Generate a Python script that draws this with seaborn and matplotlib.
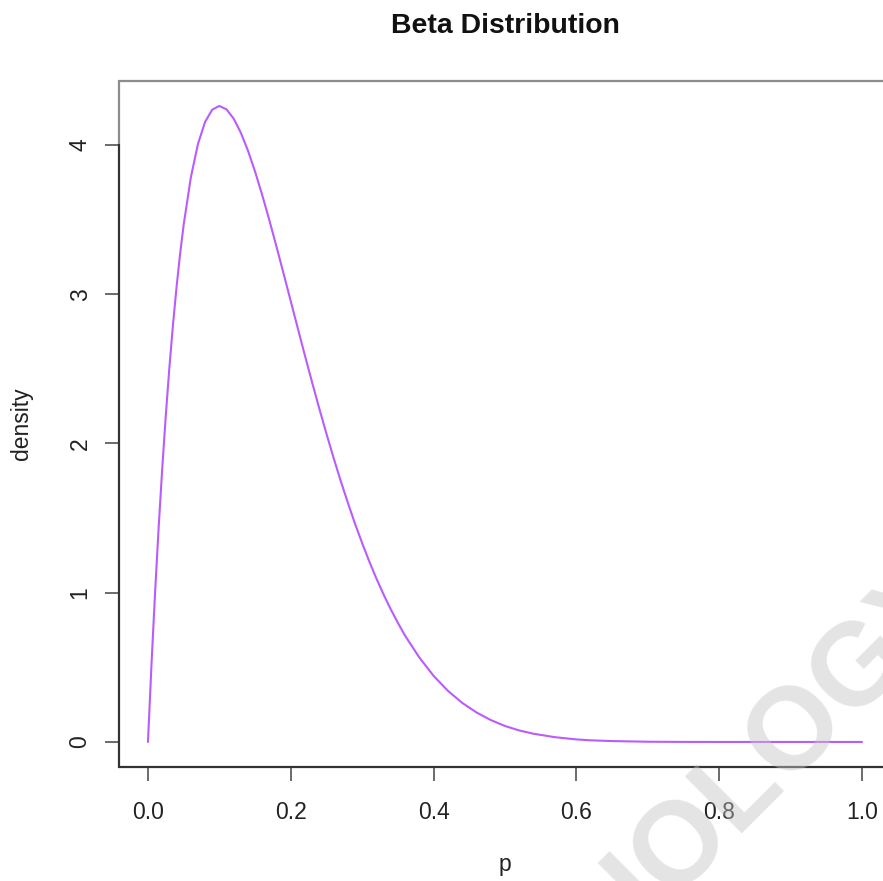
import matplotlib
matplotlib.use("Agg")
import matplotlib.pyplot as plt
import seaborn as sns
import pandas as pd
from matplotlib.patches import Rectangle

# values
p_values = [0.000, 0.005, 0.010, 0.015, 0.020, 0.025, 0.030, 0.035, 0.040, 0.045,
            0.050, 0.060, 0.070, 0.080, 0.090, 0.100, 0.110, 0.120, 0.130, 0.140,
            0.150, 0.160, 0.170, 0.180, 0.190, 0.200, 0.210, 0.220, 0.230, 0.240,
            0.250, 0.260, 0.270, 0.280, 0.290, 0.300, 0.310, 0.320, 0.330, 0.340,
            0.350, 0.360, 0.380, 0.400, 0.420, 0.440, 0.460, 0.480, 0.500, 0.520,
            0.540, 0.570, 0.600, 0.620, 0.650, 0.700, 0.750, 0.800, 0.850, 0.900,
            0.950, 1.000]
density_values = [0.000, 0.526, 1.005, 1.440, 1.834, 2.190, 2.509, 2.794, 3.047, 3.271,
                  3.466, 3.782, 4.007, 4.155, 4.237, 4.262, 4.239, 4.177, 4.083, 3.963,
                  3.822, 3.665, 3.496, 3.319, 3.137, 2.953, 2.769, 2.586, 2.407, 2.233,
                  2.065, 1.903, 1.748, 1.602, 1.462, 1.332, 1.209, 1.094, 0.988, 0.889,
                  0.798, 0.713, 0.566, 0.443, 0.343, 0.262, 0.198, 0.147, 0.107, 0.077,
                  0.055, 0.032, 0.017, 0.011, 0.006, 0.0015, 0.0003, 0.0000, 0.0000, 0.0000,
                  0.0000, 0.0000]
x_ticks = [0.0, 0.2, 0.4, 0.6, 0.8, 1.0]
x_tick_labels = ["0.0", "0.2", "0.4", "0.6", "0.8", "1.0"]
y_ticks = [0, 1, 2, 3, 4]
y_tick_labels = ["0", "1", "2", "3", "4"]

sns.set_theme(style="white")
plt.rcParams['font.family'] = ['Liberation Sans', 'DejaVu Sans']

df = pd.DataFrame({"p": p_values, "density": density_values})

W, H = 883, 881
fig = plt.figure(figsize=(W / 100, H / 100), dpi=100)
left, right, top, bottom = 119.4, 890.6, 80.5, 767.4
ax = fig.add_axes([left / W, 1 - bottom / H, (right - left) / W, (bottom - top) / H])

sns.lineplot(data=df, x="p", y="density", ax=ax, color="#B85CFF", linewidth=1.5)

ymax = max(density_values)
ax.set_xlim(-0.04, 1.04)
ax.set_ylim(-0.04 * ymax, ymax * 1.04)

ax.set_xticks(x_ticks)
ax.set_xticklabels(x_tick_labels)
ax.set_yticks(y_ticks)
ax.set_yticklabels(y_tick_labels, rotation=90, va="center")

for s in ["top", "right"]:
    ax.spines[s].set_visible(False)
for s in ["left", "bottom"]:
    ax.spines[s].set_color("#333333")
    ax.spines[s].set_linewidth(1.5)
ax.spines["left"].set_bounds(-0.04 * ymax, 4)

box = Rectangle((0, 0), 1, 1, transform=ax.transAxes, fill=False,
                edgecolor="#8c8c8c", linewidth=1.6, clip_on=False, zorder=0.5)
ax.add_patch(box)

ax.tick_params(axis="both", which="both", direction="out", length=10, width=1.1,
               color="#444444", labelcolor="#222222", labelsize=16.5,
               bottom=True, left=True)
ax.tick_params(axis="x", pad=14)
ax.tick_params(axis="y", pad=10)

ax.set_xlabel("p", fontsize=16.5, color="#222222")
ax.xaxis.label.set_va("baseline")
ax.xaxis.set_label_coords(0.5, (bottom - 871) / (bottom - top))
ax.set_ylabel("density", fontsize=16.5, color="#222222")
ax.yaxis.set_label_coords((33 - left) / (right - left), 0.5)

fig.text(505 / W, 1 - 33 / H, "Beta Distribution", ha="center", va="baseline",
         fontsize=20.4, fontweight="bold", color="#111111")

# faint watermark (cut off at the figure edge, as in the reference)
fig.text(757 / W, 1 - 768 / H, "BIOLOGY", ha="center", va="center",
         rotation=45, rotation_mode="anchor", fontsize=84, fontweight="bold",
         color="#c4c4c4", alpha=0.45, zorder=10)

fig.savefig("out.png", dpi=100)
